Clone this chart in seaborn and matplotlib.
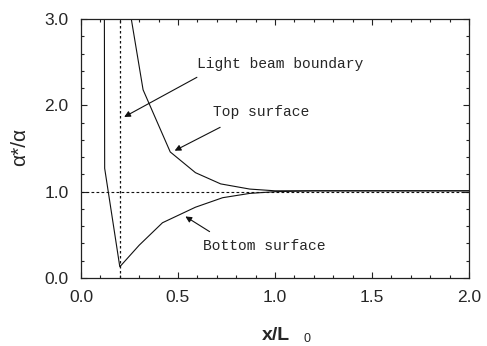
import numpy as np
import pandas as pd
import matplotlib
matplotlib.use("Agg")
import matplotlib.pyplot as plt
import seaborn as sns
from matplotlib.ticker import MultipleLocator, FormatStrFormatter

# data
top_x = [0.20, 0.32, 0.46, 0.59, 0.72, 0.87, 1.00, 1.20, 1.50, 2.00]
top_y = [3.80, 2.18, 1.46, 1.22, 1.09, 1.03, 1.01, 1.01, 1.01, 1.01]
bot_x = [0.118, 0.122, 0.20, 0.30, 0.42, 0.59, 0.73, 0.87, 1.00, 1.20, 1.50, 2.00]
bot_y = [6.00, 1.27, 0.13, 0.38, 0.64, 0.82, 0.93, 0.98, 1.00, 1.01, 1.01, 1.01]
beam_x = 0.2
ref_y = 1.0
xticks = [0.0, 0.5, 1.0, 1.5, 2.0]
yticks = [0.0, 1.0, 2.0, 3.0]

sns.set_style("ticks")
plt.rcParams["font.family"] = ["Liberation Sans", "DejaVu Sans"]

fig = plt.figure(figsize=(4.87, 3.46), dpi=100)
fig.subplots_adjust(left=81/487, right=469/487, top=1-19/346, bottom=1-278/346)
ax = fig.add_subplot(111)

top_df = pd.DataFrame({"x": top_x, "y": top_y})
bot_df = pd.DataFrame({"x": bot_x, "y": bot_y})
sns.lineplot(data=top_df, x="x", y="y", ax=ax, color="#111111", lw=0.8, sort=False, estimator=None)
sns.lineplot(data=bot_df, x="x", y="y", ax=ax, color="#111111", lw=0.8, sort=False, estimator=None)

ax.axhline(ref_y, color="#111111", lw=0.8, ls=(0, (2.5, 2)))
ax.axvline(beam_x, color="#111111", lw=0.9, ls=(0, (2, 2)))

ax.set_xlim(0, 2.0)
ax.set_ylim(0, 3.0)
ax.set_xticks(xticks)
ax.set_yticks(yticks)
ax.xaxis.set_minor_locator(MultipleLocator(0.1))
ax.yaxis.set_minor_locator(MultipleLocator(0.2))
ax.xaxis.set_major_formatter(FormatStrFormatter("%.1f"))
ax.yaxis.set_major_formatter(FormatStrFormatter("%.1f"))
ax.tick_params(which="both", direction="in", top=True, right=True, width=0.8, color="#222222")
ax.tick_params(which="major", length=4, labelsize=12.5)
ax.tick_params(axis="x", which="major", pad=9)
ax.tick_params(axis="y", which="major", pad=9)
ax.tick_params(which="minor", length=2.5)
for s in ax.spines.values():
    s.set_linewidth(0.9)
    s.set_color("#222222")
ax.set_xlabel("")
ax.set_ylabel("")

mono = ["Liberation Mono", "DejaVu Sans Mono"]
arrow = dict(arrowstyle="-|>", color="#111111", lw=0.8, mutation_scale=9)
ax.annotate("Light beam boundary", xy=(0.21, 1.85), xytext=(0.598, 2.48),
            fontsize=10.5, family=mono, va="center", ha="left")
ax.annotate("", xy=(0.21, 1.85), xytext=(0.61, 2.34), arrowprops=arrow)
ax.annotate("Top surface", xy=(0.47, 1.46), xytext=(0.68, 1.92),
            fontsize=10.5, family=mono, va="center", ha="left")
ax.annotate("", xy=(0.47, 1.46), xytext=(0.73, 1.76), arrowprops=arrow)
ax.annotate("Bottom surface", xy=(0.526, 0.73), xytext=(0.63, 0.37),
            fontsize=10.5, family=mono, va="center", ha="left")
ax.annotate("", xy=(0.526, 0.73), xytext=(0.675, 0.52), arrowprops=arrow)

fig.text(276/487, 1-335/346, "x/L", fontsize=14, fontweight="bold", ha="center", va="center")
fig.text(307/487, 1-339/346, "0", fontsize=9, ha="center", va="center")
fig.text(20/487, 1-147/346, "α*/α", fontsize=15, rotation=90, ha="center", va="center")

fig.savefig("out.png", dpi=100)
